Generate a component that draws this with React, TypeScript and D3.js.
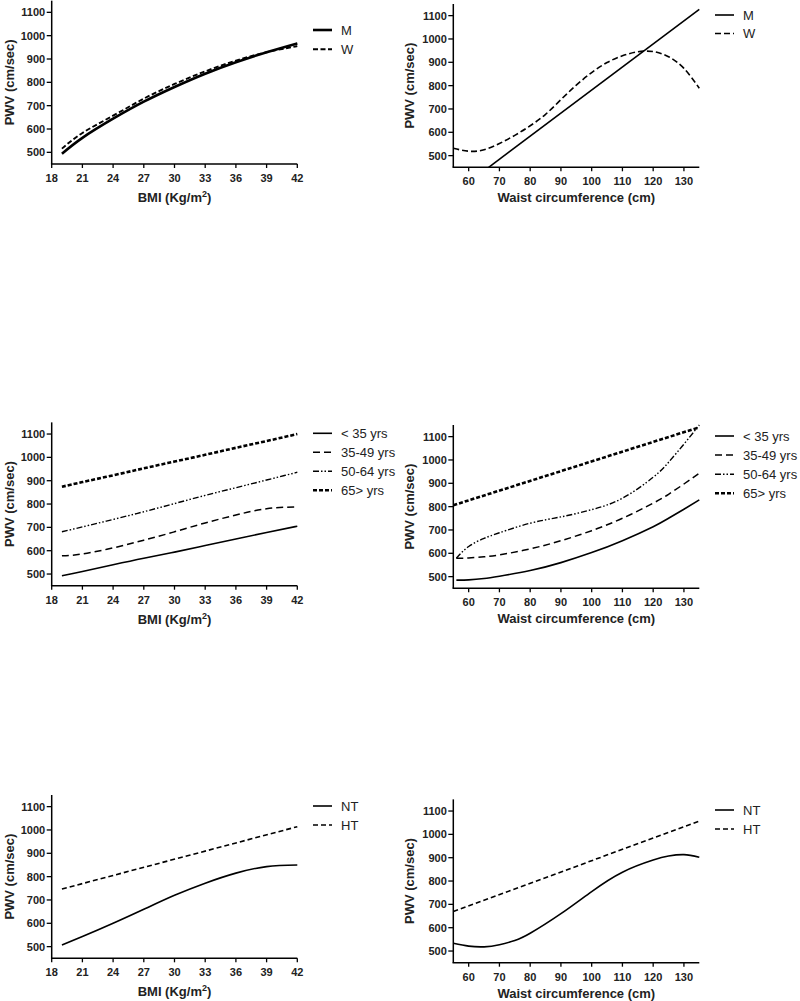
import React from "react";
import * as d3 from "d3";

// ---------- data ----------
const bmiTicks = [18, 21, 24, 27, 30, 33, 36, 39, 42];
const waistTicks = [60, 70, 80, 90, 100, 110, 120, 130];
const pwvTicks = [500, 600, 700, 800, 900, 1000, 1100];

const bmiX = [19, 21, 24, 27, 30, 33, 36, 39, 42];

// Panel A: sex vs BMI
const sexBmiM = [494, 562, 644, 717, 780, 837, 886, 929, 967];
const sexBmiW = [516, 583, 657, 730, 793, 847, 893, 929, 955];

// Panel B: sex vs waist
const sexWaistMX = [66.5, 135];
const sexWaistM = [450, 1127];
const sexWaistWX = [55, 60, 65, 70, 75, 80, 85, 90, 95, 100, 105, 110, 115, 120, 125, 130, 135];
const sexWaistW = [532, 519, 525, 552, 587, 628, 677, 740, 802, 856, 899, 928, 945, 946, 924, 874, 789];

// Panel C: age vs BMI
const ageBmi35 = [493, 511, 540, 568, 594, 622, 650, 678, 705];
const ageBmi3549 = [578, 586, 612, 645, 681, 719, 753, 780, 788];
const ageBmi5064 = [681, 702, 734, 767, 802, 837, 870, 903, 936];
const ageBmi65 = [874, 894, 923, 953, 982, 1011, 1041, 1070, 1100];

// Panel D: age vs waist
const ageWaistX = [56, 60, 65, 70, 80, 90, 100, 110, 120, 125, 130, 135];
const ageWaist35 = [485, 486, 492, 502, 526, 560, 603, 654, 714, 750, 789, 829];
const ageWaist3549 = [579, 580, 585, 593, 619, 654, 697, 750, 815, 853, 897, 943];
const ageWaist5064 = [579, 629, 664, 688, 729, 756, 787, 836, 926, 990, 1068, 1150];
const ageWaist65X = [55, 135];
const ageWaist65 = [806, 1140];

// Panel E: hypertension vs BMI
const htBmiNT = [507, 543, 600, 660, 720, 772, 815, 843, 850];
const htBmiHTX = [19, 42];
const htBmiHT = [747, 1014];

// Panel F: hypertension vs waist
const htWaistNTX = [55, 60, 65, 70, 75, 80, 90, 100, 110, 120, 125, 130, 135];
const htWaistNT = [533, 521, 518, 527, 545, 576, 660, 755, 838, 890, 907, 913, 902];
const htWaistHTX = [55, 135];
const htWaistHT = [669, 1057];

// ---------- styles ----------
type Style = { width: number; dash?: string };
const S_THICK: Style = { width: 2.6 };
const S_SOLID: Style = { width: 1.6 };
const S_DASH: Style = { width: 1.6, dash: "5,3" };
const S_DASH_W1: Style = { width: 1.9, dash: "5,2.5" };
const S_LONGDASH: Style = { width: 1.5, dash: "7,4" };
const S_DASHDOT: Style = { width: 1.4, dash: "6,2,1.5,2,1.5,2" };
const S_BOLDDASH: Style = { width: 2.6, dash: "4,2" };

type Series = { name: string; xs: number[]; ys: number[]; style: Style };

type PanelProps = {
  kind: "bmi" | "waist";
  left: number;
  right: number;
  bottom: number;
  yTitleX: number;
  legendX: number;
  legendY: number;
  legendGap: number;
  series: Series[];
};

const FONT = "'Liberation Sans', Arial, sans-serif";

function Panel(p: PanelProps) {
  const xDomain = p.kind === "bmi" ? [18, 42] : [55, 135];
  const xTicks = p.kind === "bmi" ? bmiTicks : waistTicks;
  const x = d3.scaleLinear().domain(xDomain).range([p.left, p.right]);
  const yPx = 0.23333;
  const top = p.bottom - 700 * yPx;
  const y = d3.scaleLinear().domain([450, 1150]).range([p.bottom, top]);
  const line = d3
    .line<[number, number]>()
    .x((d) => x(d[0]))
    .y((d) => y(d[1]))
    .curve(d3.curveNatural);
  const titleOffset = p.kind === "bmi" ? 38 : 35;
  return (
    <g>
      {p.series.map((s, i) => (
        <path
          key={i}
          d={line(s.xs.map((v, j) => [v, s.ys[j]] as [number, number])) || ""}
          fill="none"
          stroke="#000"
          strokeWidth={s.style.width}
          strokeDasharray={s.style.dash}
        />
      ))}
      {/* axes */}
      <line x1={p.left} x2={p.left} y1={p.bottom} y2={top} stroke="#000" strokeWidth={1.5} />
      <line x1={p.left - 0.75} x2={p.right} y1={p.bottom} y2={p.bottom} stroke="#000" strokeWidth={1.5} />
      {pwvTicks.map((t) => (
        <g key={t}>
          <line x1={p.left - 5} x2={p.left} y1={y(t)} y2={y(t)} stroke="#000" strokeWidth={1.3} />
          <text
            x={p.left - 6.5}
            y={y(t) + 4}
            textAnchor="end"
            fontSize={11}
            fontWeight="bold"
            fontFamily={FONT}
            fill="#222"
          >
            {t}
          </text>
        </g>
      ))}
      {xTicks.map((t) => (
        <g key={t}>
          <line x1={x(t)} x2={x(t)} y1={p.bottom} y2={p.bottom + 4} stroke="#000" strokeWidth={1.3} />
          <text
            x={x(t)}
            y={p.bottom + 18}
            textAnchor="middle"
            fontSize={11}
            fontWeight="bold"
            fontFamily={FONT}
            fill="#222"
          >
            {t}
          </text>
        </g>
      ))}
      <text
        x={(p.left + p.right) / 2}
        y={p.bottom + titleOffset}
        textAnchor="middle"
        fontSize={13}
        fontWeight="bold"
        fontFamily={FONT}
        fill="#222"
      >
        {p.kind === "bmi" ? (
          <>
            BMI (Kg/m
            <tspan dy={-5} fontSize={9}>
              2
            </tspan>
            <tspan dy={5}>)</tspan>
          </>
        ) : (
          "Waist circumference (cm)"
        )}
      </text>
      <text
        transform={`translate(${p.yTitleX},${(p.bottom + top) / 2}) rotate(-90)`}
        textAnchor="middle"
        dominantBaseline="central"
        fontSize={13}
        fontWeight="bold"
        fontFamily={FONT}
        fill="#222"
      >
        PWV (cm/sec)
      </text>
      {/* legend */}
      {p.series.map((s, i) => {
        const ly = p.legendY + i * p.legendGap;
        return (
          <g key={"lg" + i}>
            <line
              x1={p.legendX}
              x2={p.legendX + 19}
              y1={ly}
              y2={ly}
              stroke="#000"
              strokeWidth={s.style.width}
              strokeDasharray={s.style.dash}
            />
            <text x={p.legendX + 28} y={ly + 4.5} fontSize={13} fontFamily={FONT} fill="#222">
              {s.name}
            </text>
          </g>
        );
      })}
    </g>
  );
}

export default function App() {
  const L = { left: 51.7, right: 297.3, yTitleX: 9, legendX: 313 };
  const R = { left: 453.3, right: 699.3, yTitleX: 409.5, legendX: 715 };
  return (
    <svg
      width={800}
      height={1001}
      style={{ position: "absolute", left: 0, top: 0, background: "#fff" }}
    >
      <rect width={800} height={1001} fill="#fff" />
      <Panel
        kind="bmi"
        {...L}
        bottom={164}
        legendY={30}
        legendGap={19.3}
        series={[
          { name: "M", xs: bmiX, ys: sexBmiM, style: S_THICK },
          { name: "W", xs: bmiX, ys: sexBmiW, style: S_DASH_W1 },
        ]}
      />
      <Panel
        kind="waist"
        {...R}
        bottom={167.3}
        legendY={15}
        legendGap={18.5}
        series={[
          { name: "M", xs: sexWaistMX, ys: sexWaistM, style: S_SOLID },
          { name: "W", xs: sexWaistWX, ys: sexWaistW, style: { width: 1.6, dash: "6,3" } },
        ]}
      />
      <Panel
        kind="bmi"
        {...L}
        bottom={585.7}
        legendY={433.3}
        legendGap={19}
        series={[
          { name: "< 35 yrs", xs: bmiX, ys: ageBmi35, style: S_SOLID },
          { name: "35-49 yrs", xs: bmiX, ys: ageBmi3549, style: S_LONGDASH },
          { name: "50-64 yrs", xs: bmiX, ys: ageBmi5064, style: S_DASHDOT },
          { name: "65> yrs", xs: bmiX, ys: ageBmi65, style: S_BOLDDASH },
        ]}
      />
      <Panel
        kind="waist"
        {...R}
        bottom={588.3}
        legendY={436}
        legendGap={19.1}
        series={[
          { name: "< 35 yrs", xs: ageWaistX, ys: ageWaist35, style: S_SOLID },
          { name: "35-49 yrs", xs: ageWaistX, ys: ageWaist3549, style: S_LONGDASH },
          { name: "50-64 yrs", xs: ageWaistX, ys: ageWaist5064, style: S_DASHDOT },
          { name: "65> yrs", xs: ageWaist65X, ys: ageWaist65, style: S_BOLDDASH },
        ]}
      />
      <Panel
        kind="bmi"
        {...L}
        bottom={958.3}
        legendY={806}
        legendGap={19}
        series={[
          { name: "NT", xs: bmiX, ys: htBmiNT, style: S_SOLID },
          { name: "HT", xs: htBmiHTX, ys: htBmiHT, style: S_DASH },
        ]}
      />
      <Panel
        kind="waist"
        {...R}
        bottom={962.7}
        legendY={810}
        legendGap={19}
        series={[
          { name: "NT", xs: htWaistNTX, ys: htWaistNT, style: S_SOLID },
          { name: "HT", xs: htWaistHTX, ys: htWaistHT, style: S_DASH },
        ]}
      />
    </svg>
  );
}
